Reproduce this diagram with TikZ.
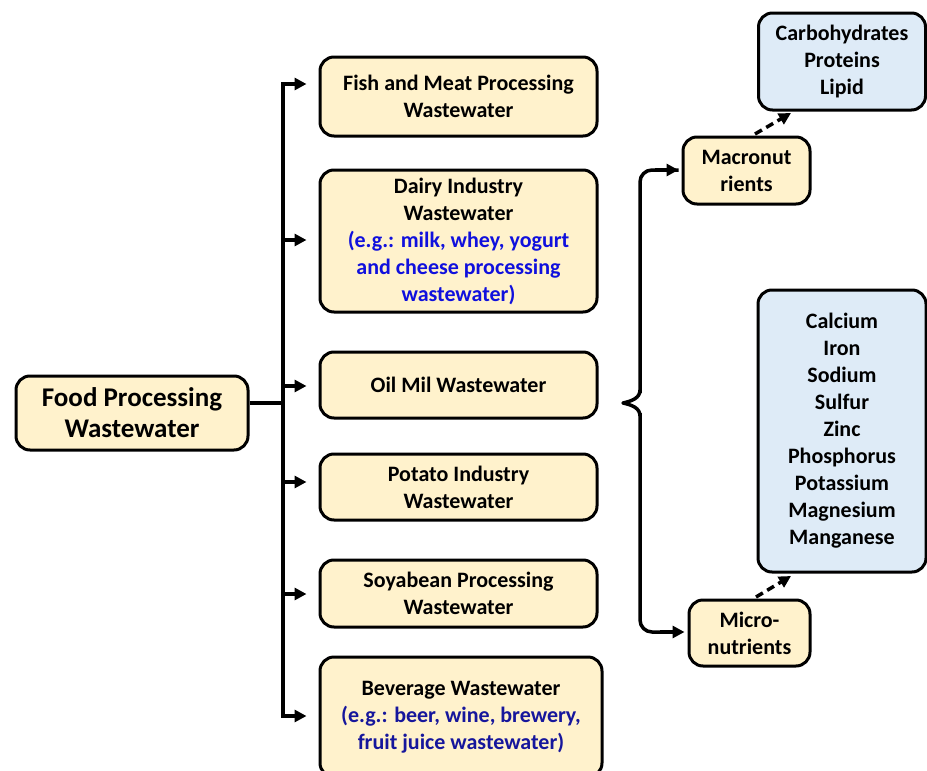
\documentclass[tikz,border=0pt]{standalone}
\usepackage{fontspec}
\setmainfont{Carlito}
\usetikzlibrary{arrows.meta}
\definecolor{beige}{HTML}{FFF2CC}
\definecolor{lblue}{HTML}{DEEBF7}
\definecolor{txtblue}{HTML}{1010DD}
\definecolor{txtnavy}{HTML}{16169C}
\begin{document}
\begin{tikzpicture}[x=1pt,y=-1pt,
  box/.style={draw=black, line width=3pt, rounded corners=14pt, fill=beige,
    align=center, inner sep=0pt, font=\fontsize{22}{27}\selectfont\bfseries},
  bbox/.style={box, fill=lblue},
  conn/.style={line width=3.5pt, -{Triangle[length=12pt,width=12pt]}},
  dconn/.style={line width=3.5pt, dash pattern=on 8pt off 5pt, -{Triangle[length=12pt,width=12pt]}}
]
\useasboundingbox (0,0) rectangle (927,771);
\node[box, minimum width=232pt, minimum height=74pt, font=\fontsize{27}{31}\selectfont\bfseries] (food) at (132,413) {Food Processing\\Wastewater};
\node[box, minimum width=277pt, minimum height=79pt] (fish) at (458.5,96.5) {Fish and Meat Processing\\Wastewater};
\node[box, minimum width=277pt, minimum height=142pt] (dairy) at (458.5,241) {Dairy Industry\\Wastewater\\\textcolor{txtblue}{(e.g.: milk, whey, yogurt}\\\textcolor{txtblue}{and cheese processing}\\\textcolor{txtblue}{wastewater)}};
\node[box, minimum width=277pt, minimum height=66pt] (oil) at (458.5,385) {Oil Mil Wastewater};
\node[box, minimum width=277pt, minimum height=66pt] (potato) at (458.5,487) {Potato Industry\\Wastewater};
\node[box, minimum width=277pt, minimum height=67pt] (soy) at (458.5,593.5) {Soyabean Processing\\Wastewater};
\node[box, minimum width=282pt, minimum height=120pt] (bev) at (461,717) {Beverage Wastewater\\\textcolor{txtnavy}{(e.g.: beer, wine, brewery,}\\\textcolor{txtnavy}{fruit juice wastewater)}};
\node[box, minimum width=127pt, minimum height=67pt] (macro) at (746.5,170.5) {Macronut\\rients};
\node[box, minimum width=121pt, minimum height=66pt] (micro) at (749.5,633) {Micro-\\nutrients};
\node[bbox, minimum width=167pt, minimum height=97pt] (carb) at (842,61.5) {Carbohydrates\\Proteins\\Lipid};
\node[bbox, minimum width=168pt, minimum height=282pt] (min) at (842,431) {Calcium\\Iron\\Sodium\\Sulfur\\Zinc\\Phosphorus\\Potassium\\Magnesium\\Manganese};
% trunk
\coordinate (j) at (283,403);
\coordinate (top) at (283,84);
\coordinate (bot) at (283,716);
\draw[line width=3.5pt] (food.east |- j) -- (j);
\draw[line width=3.5pt] (top) -- (bot);
\draw[conn] ([xshift=-1.75pt]top) -- ([xshift=-12pt]fish.west |- top);
\draw[conn] (283,240) -- ([xshift=-12pt]dairy.west |- 0,240);
\draw[conn] (283,386) -- ([xshift=-12pt]oil.west |- 0,386);
\draw[conn] (283,482) -- ([xshift=-12pt]potato.west |- 0,482);
\draw[conn] (283,594) -- ([xshift=-12pt]soy.west |- 0,594);
\draw[conn] ([xshift=-1.75pt]bot) -- ([xshift=-12pt]bev.west |- bot);
% brace
\coordinate (tip) at (623,403);
\draw[line width=3.5pt, rounded corners=12pt] (640,393) -- (640,170) -- ([xshift=-3pt]macro.west |- 0,170);
\draw[conn] (655,170) -- ([xshift=-3pt]macro.west |- 0,170);
\draw[line width=3.5pt, rounded corners=12pt] (640,413) -- (640,632) -- (670,632);
\draw[conn] (660,632) -- ([xshift=-3pt]micro.west |- 0,632);
\draw[line width=3.5pt, line join=round] (640,390) .. controls (640,398) and (632,401) .. (tip) .. controls (632,405) and (640,408) .. (640,416);
% dashed
\draw[dconn] (755,134) -- (791,113);
\draw[dconn] (756,597) -- (791,576);
\end{tikzpicture}
\end{document}
